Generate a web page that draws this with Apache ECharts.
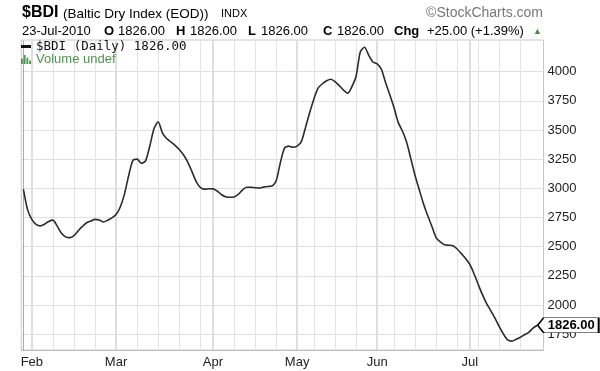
<!DOCTYPE html>
<html><head><meta charset="utf-8">
<script src="https://cdn.jsdelivr.net/npm/echarts@6/dist/echarts.min.js"></script>
<style>html,body{margin:0;padding:0;background:#fff}#c{width:600px;height:371px}</style>
</head><body><div id="c"></div>
<script>
// Trading days (2010, MM-DD)
const tradingDays = [
 '01-28','01-29',
 '02-01','02-02','02-03','02-04','02-05','02-08','02-09','02-10','02-11','02-12',
 '02-15','02-16','02-17','02-18','02-19','02-22','02-23','02-24','02-25','02-26',
 '03-01','03-02','03-03','03-04','03-05','03-08','03-09','03-10','03-11','03-12',
 '03-15','03-16','03-17','03-18','03-19','03-22','03-23','03-24','03-25','03-26',
 '03-29','03-30','03-31',
 '04-01','04-06','04-07','04-08','04-09','04-12','04-13','04-14','04-15','04-16',
 '04-19','04-20','04-21','04-22','04-23','04-26','04-27','04-28','04-29','04-30',
 '05-04','05-05','05-06','05-07','05-10','05-11','05-12','05-13','05-14',
 '05-17','05-18','05-19','05-20','05-21','05-24','05-25','05-26','05-27','05-28',
 '06-01','06-02','06-03','06-04','06-07','06-08','06-09','06-10','06-11',
 '06-14','06-15','06-16','06-17','06-18','06-21','06-22','06-23','06-24','06-25',
 '06-28','06-29','06-30',
 '07-01','07-02','07-05','07-06','07-07','07-08','07-09','07-12','07-13','07-14',
 '07-15','07-16','07-19','07-20','07-21','07-22','07-23'
];
// Baltic Dry Index daily close
const bdiClose = [
 2990,2815,
 2734,2691,2678,2692,2716,2727,2678,2617,2584,2577,
 2595,2635,2673,2705,2719,2734,2729,2711,2726,2746,
 2775,2840,2950,3110,3240,3250,3215,3235,3360,3510,
 3570,3475,3427,3398,3368,3333,3288,3226,3145,3060,
 3008,2993,2996,
 2995,2977,2947,2928,2923,2925,2947,2985,3009,3009,
 3005,3002,3010,3016,3019,3062,3217,3345,3361,3352,
 3362,3400,3523,3651,3768,3860,3896,3922,3935,
 3915,3880,3842,3815,3871,3960,4170,4209,4140,4082,
 4066,4020,3906,3802,3692,3565,3491,3394,3254,
 3110,2988,2868,2766,2673,2578,2540,2516,2512,2508,
 2480,2440,2398,
 2347,2268,2176,2088,2012,1950,1885,1814,1750,1700,
 1690,1706,1723,1745,1766,1801,1826
];
const yTicks = [1750,2000,2250,2500,2750,3000,3250,3500,3750,4000];
const monthLabels = ['Feb','Mar','Apr','May','Jun','Jul'];
const lastDateText = '23-Jul-2010';
const lastValue = 1826.00;
const changeValue = 25.00;
const changePct = 1.39;

const FONT = '"Liberation Sans", Arial, sans-serif';
const n = tradingDays.length;
const monthIdx = [], weekIdx = [];
tradingDays.forEach((d, i) => {
  const dt = new Date('2010-' + d + 'T00:00:00Z');
  if (dt.getUTCDay() === 1) weekIdx.push(i);
  if (i > 0 && d.slice(0, 2) !== tradingDays[i - 1].slice(0, 2)) monthIdx.push(i);
});
const monthName = {};
monthIdx.forEach((ix, k) => { monthName[ix] = monthLabels[k]; });

const fmt = v => v.toFixed(2);
const chart = echarts.init(document.getElementById('c'), null, {renderer: 'canvas'});

const rowY = 31.5;
function txt(text, x, y, size, bold, color, align) {
  return {type: 'text', x: x, y: y, silent: true, z: 10,
    style: {text: text, fill: color || '#000', textAlign: align || 'left', verticalAlign: 'middle',
      font: (bold ? 'bold ' : '') + size + 'px ' + FONT}};
}

const option = {
  animation: false,
  backgroundColor: '#fff',
  grid: {left: 21.3, right: 56.5, top: 40, bottom: 21, show: true, borderColor: '#c8c8c8', borderWidth: 1, containLabel: false},
  xAxis: [
    {type: 'value', min: -0.5, max: n + 0.5, position: 'top',
     axisLine: {show: false}, axisLabel: {show: false},
     axisTick: {show: false, customValues: weekIdx},
     splitLine: {show: true, lineStyle: {color: '#e3e3e3', width: 1}}},
    {type: 'value', min: -0.5, max: n + 0.5, position: 'bottom',
     axisLine: {show: true, onZero: false, lineStyle: {color: '#bdbdbd'}},
     axisTick: {show: false, customValues: monthIdx},
     axisLabel: {show: true, customValues: monthIdx, formatter: v => monthName[v] || '',
       fontSize: 13, color: '#222', margin: 6, fontFamily: FONT},
     splitLine: {show: true, lineStyle: {color: '#dedede', width: 2}}}
  ],
  yAxis: {type: 'value', position: 'right', min: 1614, max: 4271, scale: true,
    axisLine: {show: true, lineStyle: {color: '#9a9a9a', type: 'dotted'}},
    axisTick: {show: false, customValues: yTicks},
    axisLabel: {show: true, customValues: yTicks, formatter: v => String(Math.round(v)),
      fontSize: 13, color: '#222', margin: 4, fontFamily: FONT},
    splitLine: {show: true, lineStyle: {color: '#e0e0e0'}}},
  legend: {show: true, left: 21, top: 40, orient: 'vertical', itemGap: 0, itemWidth: 10, itemHeight: 10,
    selectedMode: false, padding: 0,
    data: [
      {name: '$BDI', icon: 'path://M0,0 L10,0 L10,3 L0,3 Z',
       itemStyle: {color: '#111'},
       textStyle: {fontFamily: '"DejaVu Sans Mono", monospace', fontSize: 12.5, color: '#111'}},
      {name: 'Volume', icon: 'path://M0,10 L0,4 L2,4 L2,10 Z M3,10 L3,0 L5,0 L5,10 Z M6,10 L6,3 L8,3 L8,10 Z M9,10 L9,6 L11,6 L11,10 Z',
       itemStyle: {color: '#4e944e'},
       textStyle: {fontFamily: FONT, fontSize: 13, color: '#4e944e'}}
    ],
    formatter: name => name === '$BDI' ? '$BDI (Daily) ' + fmt(lastValue) : 'Volume undef'
  },
  series: [
    {type: 'line', name: '$BDI', xAxisIndex: 1, yAxisIndex: 0,
     data: bdiClose.map((v, i) => [i, v]),
     symbol: 'none', showSymbol: false, smooth: 0.25, silent: true,
     lineStyle: {color: '#2b2b2b', width: 1.6}, itemStyle: {color: '#111'},
     markPoint: {
       symbol: 'path://M0,7 L6,0 L61,0 L61,14 L6,14 Z', symbolSize: [61, 15], symbolOffset: [31, 0],
       symbolKeepAspect: false, silent: true,
       itemStyle: {color: '#fff', borderColor: '#000', borderWidth: 1},
       label: {show: true, position: 'inside', formatter: fmt(lastValue), fontFamily: FONT,
         fontWeight: 'bold', fontSize: 13, color: '#000', offset: [3, 0]},
       data: [{coord: [n - 1, bdiClose[n - 1]]}]
     }},
    {type: 'bar', name: 'Volume', xAxisIndex: 1, yAxisIndex: 0, data: [], itemStyle: {color: '#4e944e'}}
  ],
  graphic: [
    txt('$BDI', 22, 13, 16, true, '#000'),
    txt('(Baltic Dry Index (EOD))', 63, 14, 13.5, false, '#000'),
    txt('INDX', 221, 14, 11, false, '#000'),
    txt('\u00A9StockCharts.com', 543, 13, 14, false, '#777', 'right'),
    txt(lastDateText, 22, rowY, 13, false, '#000'),
    txt('O', 104, rowY, 13, true), txt(fmt(lastValue), 118, rowY, 13, false),
    txt('H', 176, rowY, 13, true), txt(fmt(lastValue), 190, rowY, 13, false),
    txt('L', 248, rowY, 13, true), txt(fmt(lastValue), 261, rowY, 13, false),
    txt('C', 323, rowY, 13, true), txt(fmt(lastValue), 337, rowY, 13, false),
    txt('Chg', 394, rowY, 13, true),
    txt('+' + fmt(changeValue) + ' (+' + fmt(changePct) + '%)', 427, rowY, 13, false),
    txt('\u25B2', 533, rowY, 9, false, '#4a8a4a')
  ]
};
chart.setOption(option);
</script>
</body></html>
